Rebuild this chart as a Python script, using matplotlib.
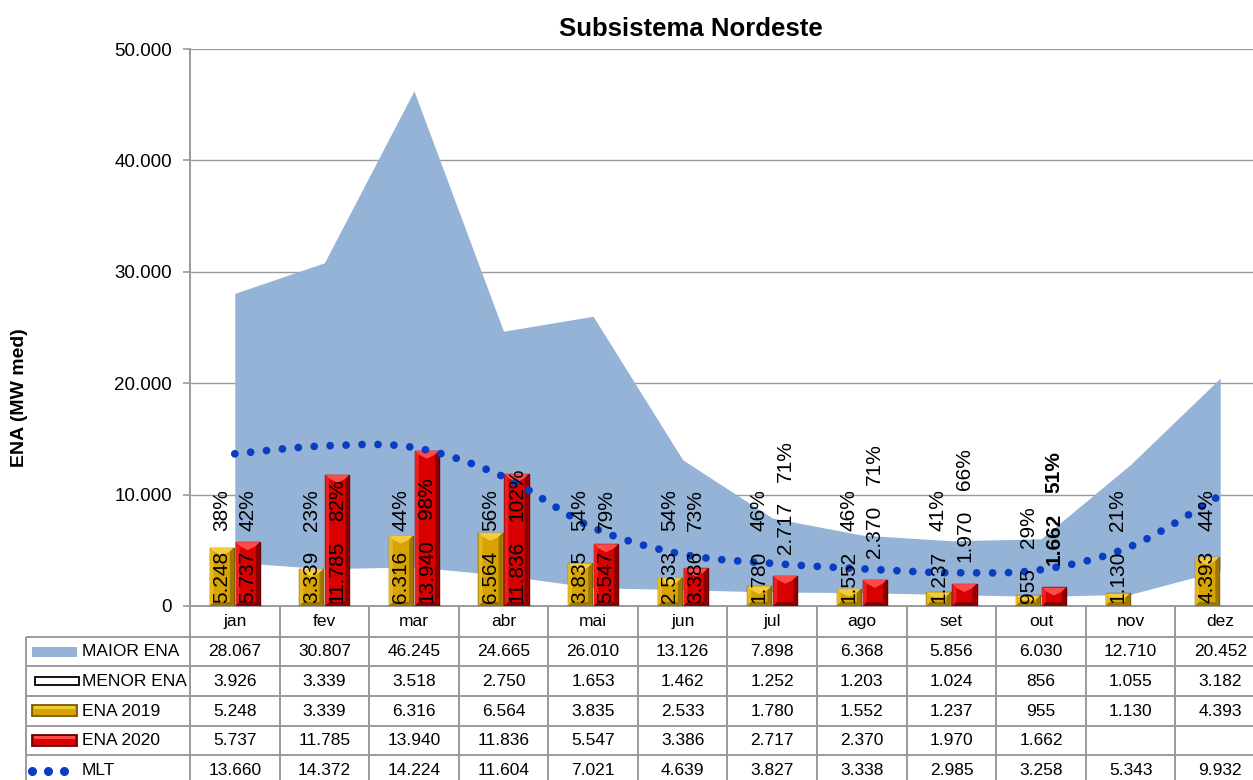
import numpy as np
import matplotlib
matplotlib.use('Agg')
import matplotlib.pyplot as plt
from matplotlib.patches import Rectangle, Polygon

plt.rcParams['font.family'] = ['Liberation Sans', 'DejaVu Sans']

# ---------------- data ----------------
months = ['jan', 'fev', 'mar', 'abr', 'mai', 'jun', 'jul', 'ago', 'set', 'out', 'nov', 'dez']
maior_ena = [28067, 30807, 46245, 24665, 26010, 13126, 7898, 6368, 5856, 6030, 12710, 20452]
menor_ena = [3926, 3339, 3518, 2750, 1653, 1462, 1252, 1203, 1024, 856, 1055, 3182]
ena_2019 = [5248, 3339, 6316, 6564, 3835, 2533, 1780, 1552, 1237, 955, 1130, 4393]
ena_2020 = [5737, 11785, 13940, 11836, 5547, 3386, 2717, 2370, 1970, 1662, None, None]
mlt = [13660, 14372, 14224, 11604, 7021, 4639, 3827, 3338, 2985, 3258, 5343, 9932]
pct_2019 = [38, 23, 44, 56, 54, 54, 46, 46, 41, 29, 21, 44]
pct_2020 = [42, 82, 98, 102, 79, 73, 71, 71, 66, 51, None, None]
yticks = [0, 10000, 20000, 30000, 40000, 50000]
row_names = ['MAIOR ENA', 'MENOR ENA', 'ENA 2019', 'ENA 2020', 'MLT']

# ---------------- styles ----------------
C_AREA = '#95B3D7'
C_GOLD, C_GOLD_E, C_GOLD_L, C_GOLD_D = '#D6A300', '#7A5C00', '#F2CC3A', '#9C7600'
C_RED, C_RED_E, C_RED_L, C_RED_D = '#D80000', '#6A0000', '#FF4A4A', '#8A0000'
C_MLT = '#0A3EC2'
C_GRID = '#9A9A9A'

W, H = 1253, 780
fig = plt.figure(figsize=(W / 100, H / 100), dpi=100)

PLOT_L, PLOT_R, PLOT_T, PLOT_B = 190, 1265, 49, 606
ax = fig.add_axes([PLOT_L / W, 1 - PLOT_B / H, (PLOT_R - PLOT_L) / W, (PLOT_B - PLOT_T) / H])

def fmt(v):
    return f"{v:,.0f}".replace(',', '.')

x = np.arange(len(months))
ax.set_xlim(-0.5, len(months) - 0.5)
ax.set_ylim(0, 50000)

# grid
ax.set_yticks(yticks)
ax.set_yticklabels([fmt(v) for v in yticks], fontsize=13.5)
ax.yaxis.grid(True, color=C_GRID, lw=1.0, zorder=0)
ax.set_axisbelow(True)
ax.set_xticks([])
for s in ['top', 'right']:
    ax.spines[s].set_visible(False)
for s in ['left', 'bottom']:
    ax.spines[s].set_color(C_GRID)
    ax.spines[s].set_linewidth(1.4)
ax.tick_params(axis='y', length=5, width=1.2, color=C_GRID, pad=8)

# area between MENOR and MAIOR
ax.fill_between(x, menor_ena, maior_ena, color=C_AREA, lw=0, zorder=1)

# bars
bw = 0.27
off = 0.145
x19 = x - off
x20 = x + off
bars19 = ax.bar(x19, ena_2019, width=bw, color=C_GOLD, edgecolor=C_GOLD_E, lw=1.0, zorder=3)
v20 = np.array([np.nan if v is None else v for v in ena_2020], dtype=float)
bars20 = ax.bar(x20, v20, width=bw, color=C_RED, edgecolor=C_RED_E, lw=1.0, zorder=3)

# bevel effect (computed from each bar's own geometry)
inv = ax.transData.inverted()
def bevel(bar, light, dark, side_light):
    if not np.isfinite(bar.get_height()):
        return
    (x0, y0), (x1, y1) = ax.transData.transform([(bar.get_x(), 0), (bar.get_x() + bar.get_width(), bar.get_height())])
    b = min(4.0, (y1 - y0) / 2)
    t = min(8.0, (y1 - y0) / 2)
    xc = (x0 + x1) / 2
    polys = [
        ([(x0, y1), (x1, y1), (x1 - b, y1 - b), (xc, y1 - t), (x0 + b, y1 - b)], light),
        ([(x0, y0), (x0, y1), (x0 + b, y1 - b), (x0 + b, y0 + b)], side_light),
        ([(x1, y0), (x1, y1), (x1 - b, y1 - b), (x1 - b, y0 + b)], dark),
        ([(x0, y0), (x1, y0), (x1 - b, y0 + b), (x0 + b, y0 + b)], dark),
    ]
    for pts, c in polys:
        ax.add_patch(Polygon(inv.transform(pts), closed=True, facecolor=c, edgecolor='none', zorder=3.2))

for bar in bars19:
    bevel(bar, C_GOLD_L, C_GOLD_D, '#E6B820')
for bar in bars20:
    bevel(bar, C_RED_L, C_RED_D, '#E82020')

# MLT smoothed dotted line (Catmull-Rom through the points)
def catmull(xs, ys, n=30):
    P = np.column_stack([xs, ys]).astype(float)
    P = np.vstack([P[0], P, P[-1]])
    out = []
    for i in range(1, len(P) - 2):
        p0, p1, p2, p3 = P[i - 1], P[i], P[i + 1], P[i + 2]
        t = np.linspace(0, 1, n, endpoint=False)[:, None]
        seg = 0.5 * ((2 * p1) + (-p0 + p2) * t + (2 * p0 - 5 * p1 + 4 * p2 - p3) * t ** 2
                     + (-p0 + 3 * p1 - 3 * p2 + p3) * t ** 3)
        out.append(seg)
    out.append(P[-2][None, :])
    out = np.vstack(out)
    return out[:, 0], out[:, 1]

sx, sy = catmull(x, mlt)
ax.plot(sx, sy, color=C_MLT, lw=5.6, linestyle=(0, (0.001, 2.05)),
        dash_capstyle='round', solid_capstyle='round', zorder=4)

# data labels
PX = 72 / 100  # points per pixel
lab_fs = 15
last20 = max(i for i, v in enumerate(ena_2020) if v is not None)
for i in range(len(months)):
    t = ax.annotate(fmt(ena_2019[i]), xy=(x19[i], 0), xytext=(0, 3 * PX), textcoords='offset points',
                    rotation=90, ha='center', va='bottom', fontsize=lab_fs, zorder=6)
    ax.annotate(f"{pct_2019[i]}%", xy=(0.5, 1), xycoords=t, xytext=(0, 20 * PX),
                textcoords='offset points', rotation=90, ha='center', va='bottom',
                fontsize=lab_fs, zorder=6)
    if ena_2020[i] is not None:
        bold = 'bold' if i == last20 else 'normal'
        if ena_2020[i] < 3000:
            t2 = ax.annotate(fmt(ena_2020[i]), xy=(x20[i], ena_2020[i]), xytext=(0, 22 * PX),
                             textcoords='offset points', rotation=90, ha='center', va='bottom',
                             fontsize=lab_fs, fontweight=bold, zorder=6)
        else:
            t2 = ax.annotate(fmt(ena_2020[i]), xy=(x20[i], 0), xytext=(0, 3 * PX),
                             textcoords='offset points', rotation=90, ha='center', va='bottom',
                             fontsize=lab_fs, fontweight=bold, zorder=6)
        ax.annotate(f"{pct_2020[i]}%", xy=(0.5, 1), xycoords=t2, xytext=(0, 20 * PX),
                    textcoords='offset points', rotation=90, ha='center', va='bottom',
                    fontsize=lab_fs, fontweight=bold, zorder=6)

# ---------------- data table ----------------
tax = fig.add_axes([PLOT_L / W, 0, (PLOT_R - PLOT_L) / W, (H - PLOT_B) / H])
tax.set_xlim(ax.get_xlim())
tax.set_ylim(H, PLOT_B)
tax.axis('off')
colw = (PLOT_R - PLOT_L) / len(months)

def xd(px):
    return -0.5 + (px - PLOT_L) / colw

LEG_L = 26
row_lines = [637, 666, 696, 726, 755]
row_centers = [651.5, 681, 711, 740.5, 770]
lc = dict(color=C_GRID, lw=1.4, clip_on=False, solid_capstyle='butt')
for k in range(len(months) + 1):
    tax.plot([k - 0.5, k - 0.5], [PLOT_B, H], **lc)
tax.plot([xd(LEG_L), xd(LEG_L)], [row_lines[0], H], **lc)
for yl in row_lines:
    tax.plot([xd(LEG_L), len(months) - 0.5], [yl, yl], **lc)

tfs = 12.5
for i, m in enumerate(months):
    tax.text(i, 621, m, ha='center', va='center', fontsize=tfs)
rows = [maior_ena, menor_ena, ena_2019, ena_2020, mlt]
for r, vals in enumerate(rows):
    for i, v in enumerate(vals):
        if v is not None:
            tax.text(i, row_centers[r], fmt(v), ha='center', va='center', fontsize=tfs)
    tax.text(xd(82), row_centers[r], row_names[r], ha='left', va='center', fontsize=tfs, clip_on=False)

# legend keys
def rect(px0, px1, py0, py1, **kw):
    tax.add_patch(Rectangle((xd(px0), py0), (px1 - px0) / colw, py1 - py0, clip_on=False, **kw))

rect(32, 77, 647, 657, facecolor=C_AREA, edgecolor='none')
rect(35, 79, 677, 685, facecolor='white', edgecolor='black', lw=1.3)
rect(32, 77, 705, 716, facecolor=C_GOLD, edgecolor=C_GOLD_E, lw=1.3)
rect(34, 75, 705.5, 708.5, facecolor=C_GOLD_L, edgecolor='none')
rect(32, 77, 735, 746, facecolor=C_RED, edgecolor=C_RED_E, lw=1.3)
rect(34, 75, 735.5, 738.5, facecolor=C_RED_L, edgecolor='none')
tax.plot([xd(32), xd(48), xd(64)], [771, 771, 771], 'o', color=C_MLT, ms=5.5, clip_on=False)

# title and axis label
fig.text(691 / W, 1 - 29 / H, 'Subsistema Nordeste', ha='center', va='center',
         fontsize=18.5, fontweight='bold')
fig.text(20 / W, 1 - 398 / H, 'ENA (MW med)', rotation=90, ha='center', va='center',
         fontsize=14, fontweight='bold')

fig.savefig('out.png', dpi=100)
